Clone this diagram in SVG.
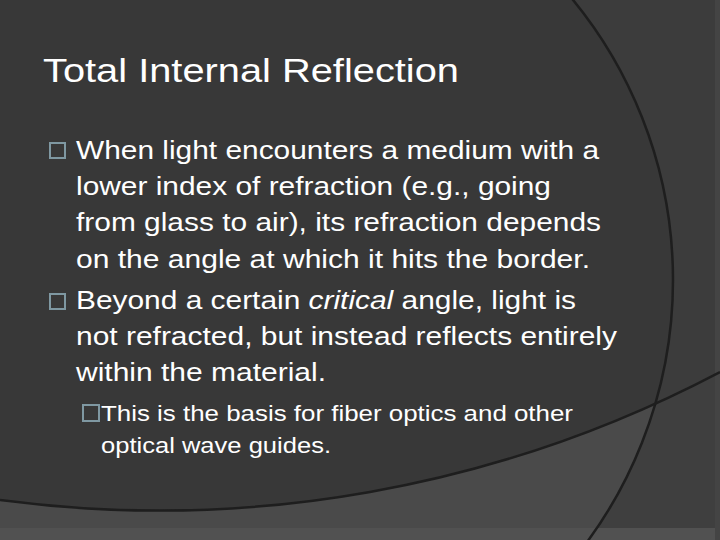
<svg xmlns="http://www.w3.org/2000/svg" width="720" height="540" viewBox="0 0 720 540">
<defs>
<style>
.t{font-family:"Liberation Sans",Arial,sans-serif;fill:#ffffff}
.b{font-size:26px}
.s{font-size:22px}
.box{fill:none;stroke:#7f98a2;stroke-width:2}
.arc{fill:none;stroke:#1e1e1e;stroke-width:2.5}
</style>
<clipPath id="big"><circle cx="231" cy="280" r="442"/></clipPath>
</defs>
<rect width="720" height="540" fill="#3c3c3c"/>
<circle cx="231" cy="280" r="442" fill="#383838"/>
<path d="M0,500 A1205,1205 0 0 0 720,372 L720,540 L0,540 Z" fill="#3f3f3f"/>
<path d="M0,500 A1205,1205 0 0 0 720,372 L720,540 L0,540 Z" fill="#4a4a4a" clip-path="url(#big)"/>
<rect x="0" y="528" width="720" height="12" fill="#515151"/>
<rect x="715" y="0" width="5" height="540" fill="#444444"/>
<g id="connectors">
<circle class="arc" cx="231" cy="280" r="442"/>
<path class="arc" d="M0,500 A1205,1205 0 0 0 720,372"/>
</g>
<g id="title"><text class="t" x="43" y="82" font-size="33" textLength="416" lengthAdjust="spacingAndGlyphs">Total Internal Reflection</text></g>
<g id="bullet1">
<rect class="box" x="50" y="143" width="15" height="15"/>
<text class="t b" x="76" y="159" textLength="523" lengthAdjust="spacingAndGlyphs">When light encounters a medium with a</text>
<text class="t b" x="76" y="195" textLength="475" lengthAdjust="spacingAndGlyphs">lower index of refraction (e.g., going</text>
<text class="t b" x="76" y="231" textLength="525" lengthAdjust="spacingAndGlyphs">from glass to air), its refraction depends</text>
<text class="t b" x="76" y="268" textLength="514" lengthAdjust="spacingAndGlyphs">on the angle at which it hits the border.</text>
</g>
<g id="bullet2">
<rect class="box" x="50" y="294" width="15" height="15"/>
<text class="t b" x="76" y="309" textLength="500" lengthAdjust="spacingAndGlyphs">Beyond a certain <tspan font-style="italic">critical</tspan> angle, light is</text>
<text class="t b" x="76" y="345" textLength="541" lengthAdjust="spacingAndGlyphs">not refracted, but instead reflects entirely</text>
<text class="t b" x="76" y="381" textLength="250" lengthAdjust="spacingAndGlyphs">within the material.</text>
</g>
<g id="bullet3">
<rect class="box" x="83" y="405" width="16" height="16"/>
<text class="t s" x="101" y="421" textLength="472" lengthAdjust="spacingAndGlyphs">This is the basis for fiber optics and other</text>
<text class="t s" x="101" y="453" textLength="230" lengthAdjust="spacingAndGlyphs">optical wave guides.</text>
</g>
</svg>
